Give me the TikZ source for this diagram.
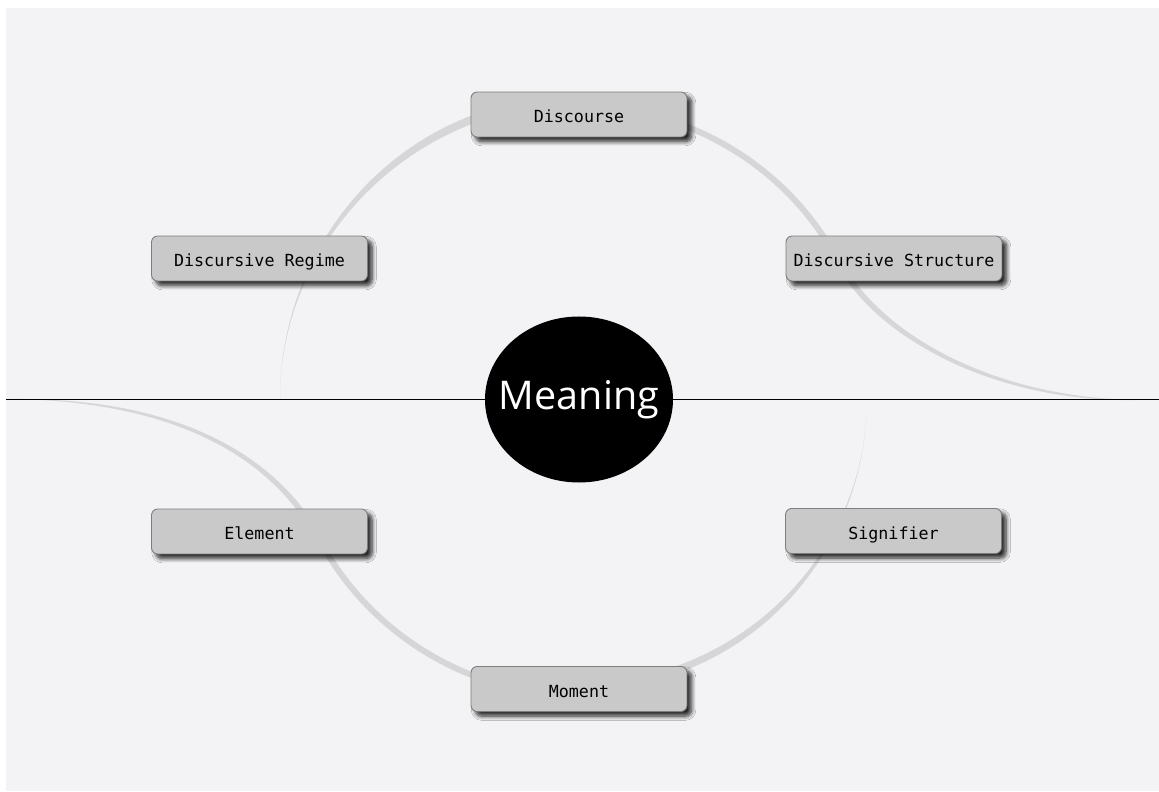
\documentclass[tikz,border=0pt]{standalone}
\usepackage{fontspec}
\setmonofont{DejaVu Sans Mono}
\newfontfamily\hubfont{Open Sans}
\usetikzlibrary{shadows.blur}
\definecolor{paper}{RGB}{243,243,245}
\definecolor{ring}{RGB}{214,214,216}
\definecolor{boxfill}{RGB}{201,201,201}
\definecolor{boxline}{RGB}{125,125,125}

\begin{document}
\begin{tikzpicture}[x=0.02cm,y=0.02cm,
    term/.style={draw=boxline, line width=0.5pt, fill=boxfill, rounded corners=3.5pt,
      minimum width=4.32cm, minimum height=0.9cm, inner sep=0pt,
      text height=9.3pt, text depth=0pt,
      font=\ttfamily\fontsize{9.5}{11}\selectfont,
      blur shadow={shadow xshift=2.6pt, shadow yshift=-2.6pt, shadow blur radius=2.4pt,
        shadow blur steps=8, shadow opacity=85}},
    hub/.style={text=white, inner sep=0pt, font=\hubfont\fontsize{22.5}{26}\selectfont}]
    \useasboundingbox (-580,-391.5) rectangle (579,399.5);
    \fill[paper] (-574,-391.5) rectangle (579,391.5);
    \fill[ring] (180:300) .. controls +(90:131) and +(198:131) .. (108:304) -- (108:296) .. controls +(198:129) and +(90:129) .. (180:300) -- cycle;
    \fill[ring] (72:296) arc[start angle=72, end angle=28, radius=296] .. controls +(-62:80) and (408,2.5) .. (555,-0.5) .. controls (408,-2.5) and +(-62:80) .. (28:290) arc[start angle=28, end angle=72, radius=290] -- cycle;
    \fill[ring] (-3:287) .. controls +(-93:120) and +(18:120) .. (-72:290.5) -- (-72:283.5) .. controls +(18:118) and +(-93:118) .. (-3:287) -- cycle;
    \fill[ring] (-106:299) arc[start angle=-106, end angle=-152, radius=299] .. controls +(118:60) and (-365,-2.5) .. (-568,0.5) .. controls (-365,2.5) and +(118:60) .. (-152:293) arc[start angle=-152, end angle=-106, radius=293] -- cycle;
    \coordinate (axis west) at (-574,0);
    \coordinate (axis east) at (579,0);
    \draw[line width=0.7pt] (axis west) -- (axis east);
    \fill (-1,0) ellipse[x radius=94, y radius=83];
    \node[hub] (meaning) at (-1,0) {Meaning};
    \node[term] (discourse) at (-1,285) {Discourse};
    \node[term] (regime) at (-320.5,141) {Discursive Regime};
    \node[term] (structure) at (314,141) {Discursive Structure};
    \node[term] (element) at (-320.5,-132) {Element};
    \node[term] (signifier) at (313.5,-131.5) {Signifier};
    \node[term] (moment) at (-1,-289.5) {Moment};
\end{tikzpicture}
\end{document}
